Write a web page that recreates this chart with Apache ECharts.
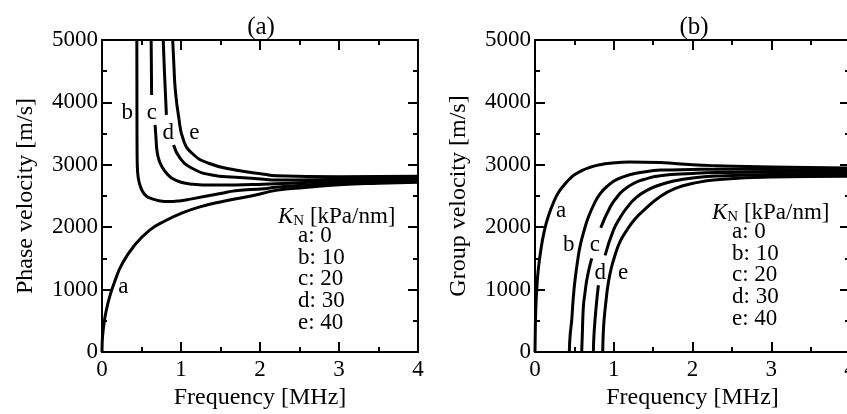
<!DOCTYPE html>
<html>
<head>
<meta charset="utf-8">
<script src="https://cdn.jsdelivr.net/npm/echarts@6/dist/echarts.min.js"></script>
<style>
  html, body { margin: 0; padding: 0; background: #fff; }
  #chart { width: 847px; height: 414px; }
</style>
</head>
<body>
<div id="chart"></div>
<script>
// values: [frequency MHz, velocity m/s], null = break in the line
var phaseA = [[0,0],[0.003,160],[0.01,290],[0.025,450],[0.05,640],[0.1,900],[0.17,1160],[0.25,1400],[0.4,1690],[0.6,1950],[0.82,2115],[1.0,2220],[1.25,2330],[1.54,2415],[1.96,2520],[2.2,2590],[2.5,2630],[3,2680],[3.5,2705],[4,2720]];
var phaseB = [[0.441,5000],[0.442,4200],[0.443,3500],[0.445,3100],[0.45,2900],[0.47,2720],[0.51,2580],[0.56,2500],[0.633,2455],[0.72,2425],[0.84,2410],[1.0,2425],[1.12,2450],[1.5,2540],[1.69,2585],[2.05,2615],[2.2,2640],[3,2710],[4,2745]];
var phaseC = [[0.622,5000],[0.625,4600],[0.628,4120],null,[0.672,3640],[0.685,3400],[0.695,3237],[0.72,3080],[0.76,2970],[0.82,2860],[0.886,2784],[1.0,2720],[1.14,2690],[1.4,2675],[1.69,2676],[2.05,2690],[2.2,2695],[3,2740],[4,2770]];
var phaseD = [[0.775,5000],[0.79,4500],[0.815,3800],null,[0.906,3317],[0.99,3103],[1.14,2944],[1.39,2836],[1.69,2800],[2.05,2770],[2.2,2755],[3,2770],[4,2795]];
var phaseE = [[0.895,5000],[0.91,4600],[0.928,4200],[0.97,3770],[1.03,3400],[1.14,3185],[1.35,3025],[1.69,2917],[2.05,2850],[2.2,2825],[3,2810],[4,2815]];

var groupA = [[0,0],[0.005,450],[0.012,750],[0.022,1000],[0.04,1300],[0.07,1600],[0.115,1920],[0.17,2180],[0.25,2440],[0.3,2560],[0.36,2660],[0.43,2760],[0.5,2840],[0.6,2910],[0.7,2960],[0.82,3000],[0.95,3025],[1.2,3045],[1.59,3035],[2.0,3000],[2.3,2985],[3,2965],[4,2950]];
var groupB = [[0.436,0],[0.445,250],[0.466,510],[0.485,850],[0.508,1150],[0.54,1450],[0.57,1680],[0.62,1930],[0.677,2160],[0.75,2370],[0.826,2535],[0.93,2670],[1.04,2765],[1.2,2840],[1.4,2890],[1.6,2915],[2.0,2925],[2.3,2930],[3,2925],[4,2915]];
var groupC = [[0.593,0],[0.6,250],[0.614,720],[0.635,950],[0.657,1150],[0.69,1350],[0.72,1500],null,[0.835,1990],[0.953,2320],[1.04,2480],[1.12,2590],[1.25,2700],[1.38,2765],[1.59,2825],[2.0,2860],[2.3,2875],[3,2885],[4,2880]];
var groupD = [[0.741,0],[0.748,250],[0.762,510],[0.782,800],[0.805,1070],null,[0.89,1550],[0.995,1950],[1.08,2150],[1.165,2310],[1.28,2470],[1.42,2590],[1.59,2680],[1.76,2740],[2.0,2790],[2.3,2820],[3,2845],[4,2850]];
var groupE = [[0.86,0],[0.865,250],[0.877,510],[0.9,800],[0.93,1100],[0.97,1350],[1.016,1550],[1.08,1770],[1.165,1950],[1.27,2130],[1.38,2270],[1.6,2500],[1.8,2630],[2.0,2700],[2.3,2760],[3,2805],[4,2815]];

var curveNames = ['a', 'b', 'c', 'd', 'e'];
var stiffness = ['0', '10', '20', '30', '40'];
var freqTicks = [0, 4, 1];
var velTicks = [0, 5000, 1000];

var font = '"Liberation Serif", "DejaVu Serif", serif';
var chart = echarts.init(document.getElementById('chart'));

function plain(v) { return String(v); }

function xAxis(grid, pos, name) {
  return {
    gridIndex: grid, type: 'value', position: pos,
    min: freqTicks[0], max: freqTicks[1], interval: freqTicks[2],
    name: name, nameLocation: 'middle', nameGap: 33,
    nameTextStyle: { fontSize: 24, color: '#000', fontFamily: font },
    axisLine: { show: true, onZero: false, lineStyle: { color: '#000', width: 2 } },
    axisTick: { show: true, inside: true, length: 10, lineStyle: { color: '#000', width: 2 } },
    minorTick: { show: true, splitNumber: 2, length: 5, lineStyle: { color: '#000', width: 2 } },
    splitLine: { show: false },
    axisLabel: { show: pos === 'bottom', fontSize: 23, color: '#000', fontFamily: font, margin: 6, formatter: plain }
  };
}
function yAxis(grid, pos, name) {
  return {
    gridIndex: grid, type: 'value', position: pos,
    min: velTicks[0], max: velTicks[1], interval: velTicks[2],
    name: name, nameLocation: 'middle', nameGap: 64, nameRotate: 90,
    nameTextStyle: { fontSize: 24, color: '#000', fontFamily: font },
    axisLine: { show: true, onZero: false, lineStyle: { color: '#000', width: 2 } },
    axisTick: { show: true, inside: true, length: 10, lineStyle: { color: '#000', width: 2 } },
    minorTick: { show: true, splitNumber: 2, length: 5, lineStyle: { color: '#000', width: 2 } },
    splitLine: { show: false },
    axisLabel: { show: pos === 'left', fontSize: 23, color: '#000', fontFamily: font, margin: 4, formatter: plain }
  };
}
function curve(grid, data, label, at) {
  return {
    type: 'line', xAxisIndex: grid * 2, yAxisIndex: grid * 2,
    data: data, showSymbol: false, smooth: 0.5, connectNulls: false,
    lineStyle: { color: '#000', width: 3 },
    markPoint: {
      symbol: 'circle', symbolSize: 0, silent: true,
      label: { show: true, position: 'inside', formatter: label, color: '#000', fontSize: 23, fontFamily: font },
      data: [{ coord: at }]
    }
  };
}
function legendText(x, y) {
  var rows = curveNames.map(function (n, i) { return n + ': ' + stiffness[i]; }).join('\n');
  return [
    { type: 'text', x: x, y: y, style: {
        text: '{k|K}{n|N} [kPa/nm]', fill: '#000', verticalAlign: 'middle', fontSize: 23, fontFamily: font,
        rich: { k: { fontStyle: 'italic', fontSize: 23, fontFamily: font },
                n: { fontSize: 15, fontFamily: font, padding: [9, 0, 0, 0] } } } },
    { type: 'text', x: x + 20, y: y + 8, style: {
        text: rows, fill: '#000', fontSize: 23, lineHeight: 21.7, fontFamily: font, verticalAlign: 'top' } }
  ];
}

chart.setOption({
  animation: false,
  textStyle: { fontFamily: font },
  grid: [
    { left: 102, top: 40, width: 316, height: 312, outerBoundsMode: 'none' },
    { left: 535, top: 40, width: 315, height: 312, outerBoundsMode: 'none' }
  ],
  xAxis: [xAxis(0, 'bottom', 'Frequency [MHz]'), xAxis(0, 'top', ''),
          xAxis(1, 'bottom', 'Frequency [MHz]'), xAxis(1, 'top', '')],
  yAxis: [yAxis(0, 'left', 'Phase velocity [m/s]'), yAxis(0, 'right', ''),
          yAxis(1, 'left', 'Group velocity [m/s]'), yAxis(1, 'right', '')],
  series: [
    curve(0, phaseA, 'a', [0.27, 1040]),
    curve(0, phaseB, 'b', [0.32, 3830]),
    curve(0, phaseC, 'c', [0.63, 3830]),
    curve(0, phaseD, 'd', [0.84, 3510]),
    curve(0, phaseE, 'e', [1.17, 3510]),
    curve(1, groupA, 'a', [0.33, 2268]),
    curve(1, groupB, 'b', [0.43, 1709]),
    curve(1, groupC, 'c', [0.76, 1709]),
    curve(1, groupD, 'd', [0.83, 1262]),
    curve(1, groupE, 'e', [1.12, 1262])
  ],
  graphic: [
    { type: 'text', x: 261, y: 27, style: { text: '(a)', fill: '#000', fontSize: 25, fontFamily: font, align: 'center', verticalAlign: 'middle' } },
    { type: 'text', x: 694, y: 27, style: { text: '(b)', fill: '#000', fontSize: 25, fontFamily: font, align: 'center', verticalAlign: 'middle' } }
  ].concat(legendText(278, 217), legendText(712, 213))
});
</script>
</body>
</html>
